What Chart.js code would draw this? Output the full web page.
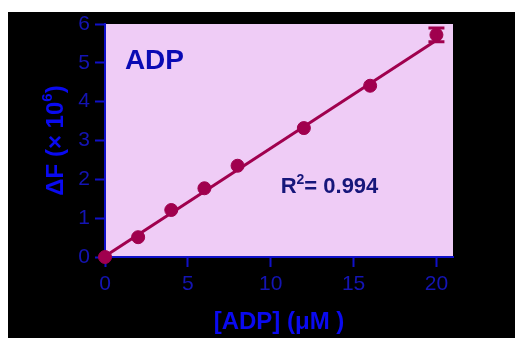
<!DOCTYPE html>
<html>
<head>
<meta charset="utf-8">
<script src="https://cdn.jsdelivr.net/npm/chart.js@4"></script>
<style>
  html, body { margin: 0; padding: 0; background: #fff; }
  #wrap { width: 515px; height: 338px; position: relative; }
</style>
</head>
<body>
<div id="wrap"><canvas id="adpChart" width="515" height="338"></canvas></div>
<script>
// data
const concADP = [0, 2, 4, 6, 8, 12, 16, 20];
const deltaF = [0, 0.51, 1.21, 1.77, 2.35, 3.32, 4.41, 5.72];
const deltaErr = [0, 0, 0, 0, 0, 0, 0, 0.18];
const fitX = [0, 20];
const fitY = [0.02, 5.58];
const xTicks = [0, 5, 10, 15, 20];
const yTicks = [0, 1, 2, 3, 4, 5, 6];

const maroon = '#a0004e';
const axisBlue = '#1010c8';
const fam = '"Liberation Sans", Arial, sans-serif';

// text with a superscript part, drawn left to right from x
function drawRich(ctx, parts, x, y, size) {
    let cx = x;
    parts.forEach(p => {
        const s = p.sup ? Math.round(size * 0.62) : size;
        ctx.font = 'bold ' + s + 'px ' + fam;
        ctx.fillText(p.text, cx, p.sup ? y - size * 0.32 : y);
        cx += ctx.measureText(p.text).width;
    });
}
function richWidth(ctx, parts, size) {
    let w = 0;
    parts.forEach(p => {
        const s = p.sup ? Math.round(size * 0.62) : size;
        ctx.font = 'bold ' + s + 'px ' + fam;
        w += ctx.measureText(p.text).width;
    });
    return w;
}

// background, black frame and pink plot area
const backdrop = {
    id: 'backdrop',
    beforeDraw(chart) {
        const ctx = chart.ctx;
        const a = chart.chartArea;
        ctx.save();
        ctx.fillStyle = '#ffffff';
        ctx.fillRect(0, 0, chart.width, chart.height);
        ctx.fillStyle = '#000000';
        ctx.fillRect(8, 12, chart.width - 8, chart.height - 12);
        ctx.fillStyle = '#efccf6';
        ctx.fillRect(a.left, a.top, a.right - a.left, a.bottom - a.top);
        ctx.restore();
    }
};

// error bars, y title and text labels
const extras = {
    id: 'extras',
    afterDatasetsDraw(chart) {
        const ctx = chart.ctx;
        const xs = chart.scales.x, ys = chart.scales.y;
        const a = chart.chartArea;
        ctx.save();
        ctx.strokeStyle = maroon;
        ctx.lineWidth = 3;
        concADP.forEach((x, i) => {
            if (!deltaErr[i]) return;
            const px = xs.getPixelForValue(x);
            const top = ys.getPixelForValue(deltaF[i] + deltaErr[i]);
            const bot = ys.getPixelForValue(deltaF[i] - deltaErr[i]);
            ctx.beginPath();
            ctx.moveTo(px, top); ctx.lineTo(px, bot);
            ctx.moveTo(px - 8, top); ctx.lineTo(px + 8, top);
            ctx.moveTo(px - 8, bot); ctx.lineTo(px + 8, bot);
            ctx.stroke();
        });

        ctx.textBaseline = 'middle';
        ctx.textAlign = 'left';
        ctx.fillStyle = '#0a0ab4';
        ctx.font = 'bold 28px ' + fam;
        ctx.fillText('ADP', xs.getPixelForValue(1.2), ys.getPixelForValue(5.05));

        ctx.fillStyle = '#16167a';
        drawRich(ctx, [{ text: 'R' }, { text: '2', sup: true }, { text: '= 0.994' }],
            xs.getPixelForValue(10.6), ys.getPixelForValue(1.8), 22);

        // y axis title, rotated
        const yTitle = [{ text: '\u0394F (\u00d7 10' }, { text: '6', sup: true }, { text: ')' }];
        ctx.fillStyle = '#0a0af0';
        ctx.translate(56, (a.top + a.bottom) / 2);
        ctx.rotate(-Math.PI / 2);
        drawRich(ctx, yTitle, -richWidth(ctx, yTitle, 24) / 2, 0, 24);
        ctx.restore();
    }
};

const tickFont = { family: fam, size: 21 };
const titleFont = { family: fam, size: 24, weight: 'bold' };

new Chart(document.getElementById('adpChart'), {
    type: 'scatter',
    data: {
        datasets: [{
            label: 'fit',
            data: fitX.map((x, i) => ({ x: x, y: fitY[i] })),
            showLine: true,
            borderColor: maroon,
            borderWidth: 3,
            pointRadius: 0,
            clip: false
        }, {
            label: 'ADP',
            data: concADP.map((x, i) => ({ x: x, y: deltaF[i] })),
            backgroundColor: maroon,
            borderColor: maroon,
            pointRadius: 6.5,
            clip: false
        }]
    },
    options: {
        responsive: false,
        animation: false,
        layout: { padding: { left: 0, right: 62, top: 24, bottom: 0 } },
        plugins: { legend: { display: false }, tooltip: { enabled: false } },
        scales: {
            x: {
                type: 'linear',
                min: 0, max: 21,
                z: 1,
                afterFit(s) { s.height = 81; },
                afterBuildTicks(s) { s.ticks = xTicks.map(v => ({ value: v })); },
                border: { color: axisBlue, width: 2 },
                grid: { drawOnChartArea: false, tickLength: 10, tickColor: axisBlue, tickWidth: 2 },
                ticks: { color: '#1414b4', font: tickFont, padding: 5, maxRotation: 0 },
                title: { display: true, text: '[ADP] (\u03bcM )', color: '#0a0af0', font: titleFont, padding: { top: 0, bottom: 1 } }
            },
            y: {
                type: 'linear',
                min: 0, max: 6,
                z: 1,
                afterFit(s) { s.width = 105; },
                afterBuildTicks(s) { s.ticks = yTicks.map(v => ({ value: v })); },
                border: { color: axisBlue, width: 2 },
                grid: { drawOnChartArea: false, tickLength: 10, tickColor: axisBlue, tickWidth: 2 },
                ticks: { color: '#1414b4', font: tickFont, padding: 5 }
            }
        }
    },
    plugins: [backdrop, extras]
});
</script>
</body>
</html>
